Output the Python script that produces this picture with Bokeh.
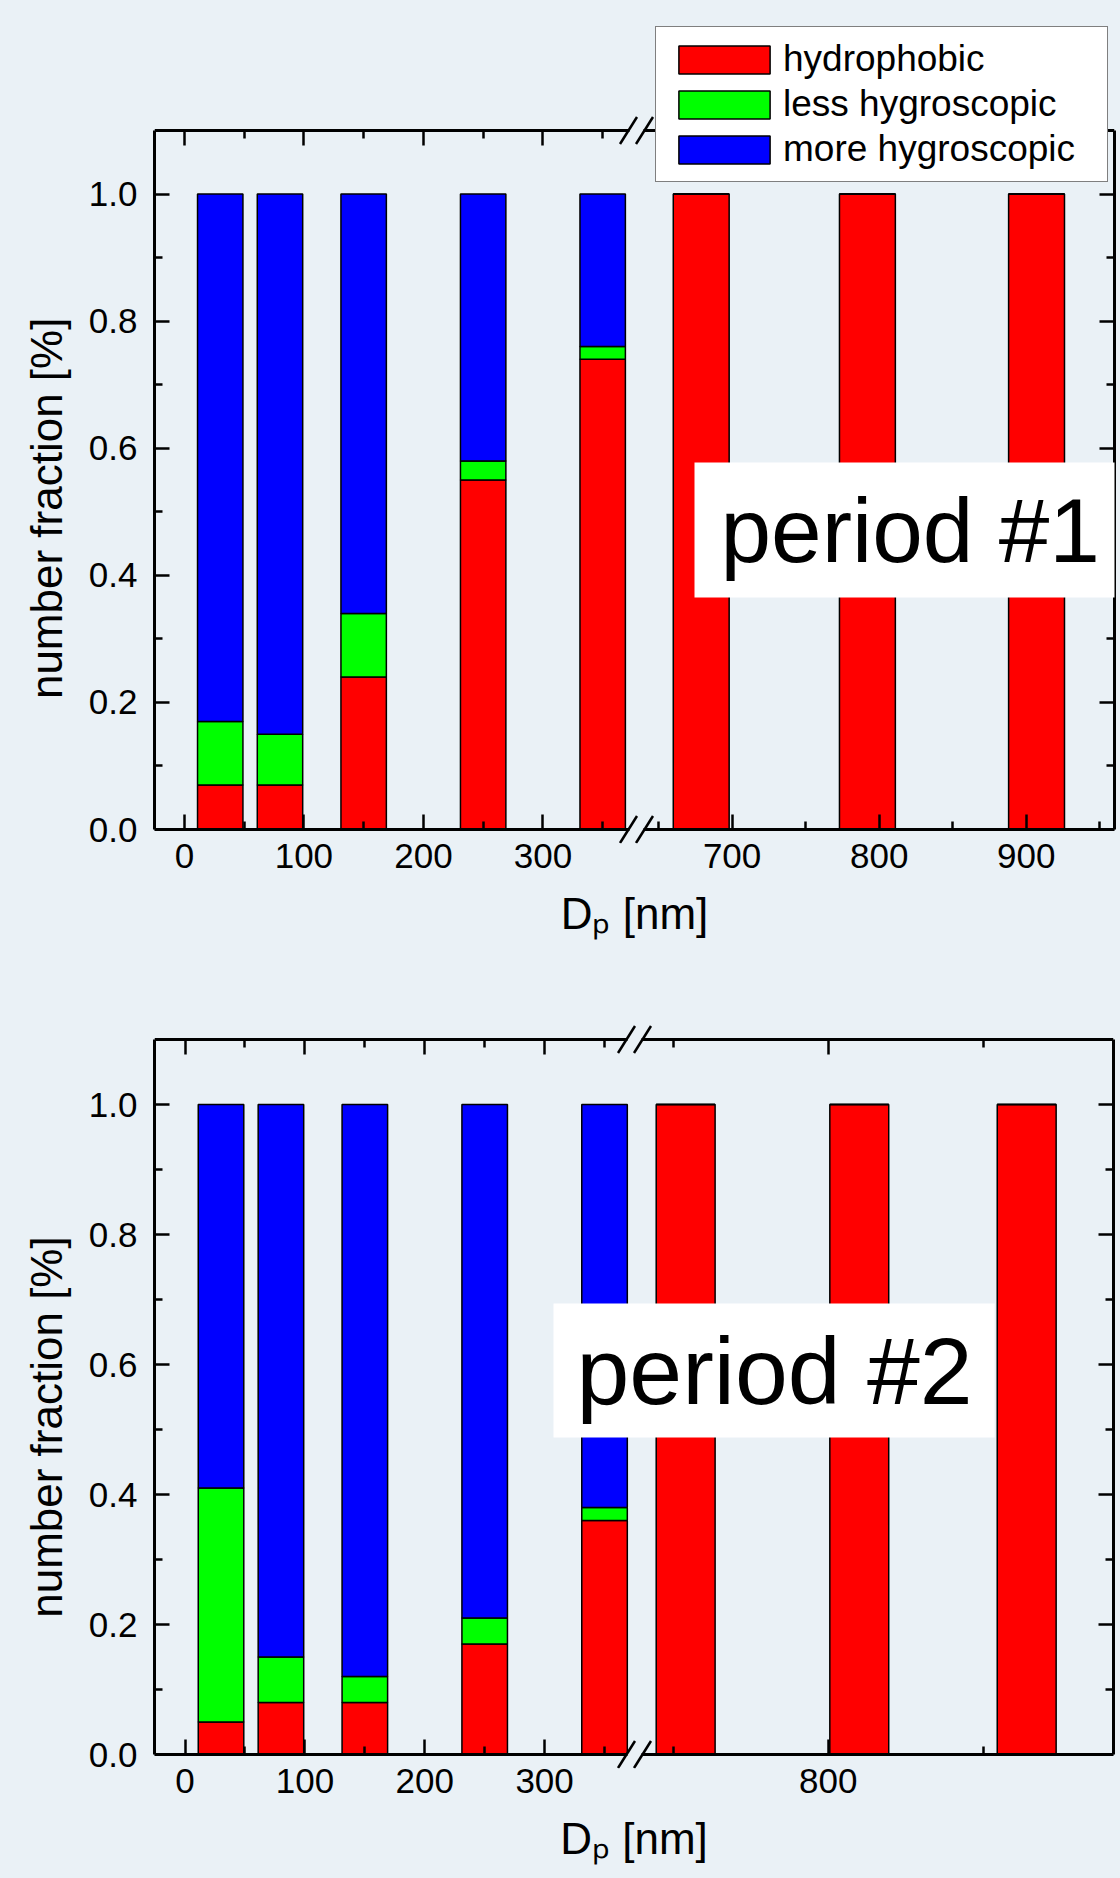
from bokeh.plotting import figure
from bokeh.models import (ColumnDataSource, FixedTicker, LinearAxis, Range1d, BoxAnnotation,
                          Legend, LegendItem, Label, Arrow, PrintfTickFormatter)
from bokeh.layouts import column
from bokeh.embed import file_html
from bokeh.resources import INLINE

# ---------------- data ----------------
classes = ["hydrophobic", "less hygroscopic", "more hygroscopic"]
class_colors = ["#ff0000", "#00ff00", "#0000ff"]

# period #1
p1_dp = [30, 80, 150, 250, 350, 679, 792, 907]
p1_hydrophobic = [0.07, 0.07, 0.24, 0.55, 0.74, 1.0, 1.0, 1.0]
p1_less_hygro = [0.10, 0.08, 0.10, 0.03, 0.02, 0.0, 0.0, 0.0]
p1_more_hygro = [0.83, 0.85, 0.66, 0.42, 0.24, 0.0, 0.0, 0.0]

# period #2
p2_dp = [30, 80, 150, 250, 350, 754, 810, 864]
p2_hydrophobic = [0.05, 0.08, 0.08, 0.17, 0.36, 1.0, 1.0, 1.0]
p2_less_hygro = [0.36, 0.07, 0.04, 0.04, 0.02, 0.0, 0.0, 0.0]
p2_more_hygro = [0.59, 0.85, 0.88, 0.79, 0.62, 0.0, 0.0, 0.0]

p1_x_major = [0, 100, 200, 300, 700, 800, 900]
p1_x_minor = [50, 150, 250, 350, 650, 750, 850, 950]
p2_x_major = [0, 100, 200, 300, 800]
p2_x_minor = [50, 150, 250, 350, 750, 850]
y_major = [0.0, 0.2, 0.4, 0.6, 0.8, 1.0]
y_minor = [0.1, 0.3, 0.5, 0.7, 0.9]

x_title = "D\u209a [nm]"
y_title = "number fraction [%]"

# ---------------- style / layout ----------------
FONT = "Liberation Sans"
BG = "#eaf1f6"
PAGE_W = 1120
Y_MAX = 1.1


def segment_map(segments):
    """broken x axis: each segment = (nm_start, nm_end, px_start, px_end, bar_width_nm)"""
    def f(x):
        for a, b, s0, s1, _ in segments:
            if a <= x <= b:
                return s0 + (x - a) * (s1 - s0) / (b - a)
        raise ValueError(x)

    def width_of(x):
        for a, b, s0, s1, w in segments:
            if a <= x <= b:
                return w
        raise ValueError(x)
    return f, width_of


def style_axis(ax, labels=True):
    ax.axis_line_width = 3
    ax.axis_line_color = "black"
    ax.major_tick_in = 15
    ax.major_tick_out = 0
    ax.minor_tick_in = 8
    ax.minor_tick_out = 0
    ax.major_tick_line_width = 2.5
    ax.minor_tick_line_width = 2.5
    ax.major_tick_line_color = "black"
    ax.minor_tick_line_color = "black"
    ax.major_label_text_font = FONT
    if labels:
        ax.major_label_text_font_size = "35px"
        ax.major_label_text_color = "black"
    else:
        ax.major_label_text_font_size = "0px"
        ax.major_label_text_color = None
        ax.major_label_standoff = 0
    ax.axis_label_text_font = FONT
    ax.axis_label_text_font_size = "44px"
    ax.axis_label_text_font_style = "normal"
    ax.axis_label_text_color = "black"


def build_panel(dp, hyd, less, more, segments, frame_w, span_px, ext_top, ext_bot,
                left_b, top_b, bottom_b, x_major, x_minor, n_pad,
                period_text, period_size, period_box, period_pad, legend_loc=None):
    fmap, wmap = segment_map(segments)
    xs, ws = [], []
    for d in dp:
        w = wmap(d)
        l, r = fmap(d - w / 2), fmap(d + w / 2)
        xs.append((l + r) / 2)
        ws.append(r - l)
    src = ColumnDataSource(dict(x=xs, w=ws, hyd=hyd, less=less, more=more))

    px_per_y = span_px / Y_MAX
    p = figure(frame_width=frame_w, frame_height=span_px + ext_top + ext_bot,
               x_range=Range1d(0, frame_w),
               y_range=Range1d(-ext_bot / px_per_y, Y_MAX + ext_top / px_per_y),
               min_border_left=left_b, min_border_right=PAGE_W - left_b - frame_w,
               min_border_top=top_b, min_border_bottom=bottom_b,
               output_backend="svg", toolbar_location=None,
               background_fill_color=BG, border_fill_color=BG)
    p.outline_line_color = None
    p.xgrid.visible = False
    p.ygrid.visible = False
    p.add_layout(BoxAnnotation(fill_color=BG, fill_alpha=1.0, line_color=None, level="underlay"))

    rs = p.vbar_stack(["hyd", "less", "more"], x="x", width="w", source=src,
                      color=class_colors, line_color="black", line_width=1.5)

    major_v = [fmap(t) for t in x_major]
    minor_v = [fmap(t) for t in x_minor]
    xticker = FixedTicker(ticks=major_v, minor_ticks=minor_v)
    yticker = FixedTicker(ticks=y_major, minor_ticks=y_minor)

    # bottom axis: labels + title in the side panel (line/ticks drawn by the axis at y=0)
    xa = p.xaxis[0]
    xa.ticker = xticker
    xa.major_label_overrides = {v: str(t) for v, t in zip(major_v, x_major)}
    style_axis(xa)
    xa.axis_line_color = None
    xa.major_tick_line_color = None
    xa.minor_tick_line_color = None
    xa.major_label_standoff = 14 - ext_bot
    xa.axis_label = x_title
    xa.axis_label_standoff = 18

    x_rule = LinearAxis(ticker=xticker, fixed_location=0)
    style_axis(x_rule, labels=False)
    p.add_layout(x_rule, "below")

    ya = p.yaxis[0]
    ya.ticker = yticker
    ya.bounds = (0, Y_MAX)
    ya.formatter = PrintfTickFormatter(format="%.1f")
    style_axis(ya)
    ya.major_label_standoff = 17
    ya.axis_label = y_title + "\u00a0" * n_pad
    ya.axis_label_standoff = 15

    top_ax = LinearAxis(ticker=xticker, fixed_location=Y_MAX)
    style_axis(top_ax, labels=False)
    p.add_layout(top_ax, "above")
    right_ax = LinearAxis(ticker=yticker, bounds=(0, Y_MAX))
    style_axis(right_ax, labels=False)
    p.add_layout(right_ax, "right")

    # axis break marks "//"
    brk = segments[0][3]
    for y0 in (0.0, Y_MAX):
        p.add_layout(Arrow(end=None, x_start=brk - 7, x_end=brk + 7, y_start=y0, y_end=y0,
                           line_color=BG, line_width=6))
        for dx in (-8, 8):
            p.add_layout(Arrow(end=None,
                               x_start=brk + dx - 8.5, y_start=y0 - 13.5 / px_per_y,
                               x_end=brk + dx + 8.5, y_end=y0 + 13.5 / px_per_y,
                               line_color="black", line_width=2.5))

    bx, by = period_box
    pl, pr, pt, pb = period_pad
    p.add_layout(Label(x=bx, y=by, x_units="screen", y_units="screen", text=period_text,
                       text_font=FONT, text_font_size=period_size, text_color="black",
                       text_align="left", text_baseline="top",
                       background_fill_color="white", background_fill_alpha=1.0,
                       padding=dict(left=pl, right=pr, top=pt, bottom=pb)))

    if legend_loc is not None:
        items = [LegendItem(label=c, renderers=[r]) for c, r in zip(classes, rs)]
        leg = Legend(items=items, location=legend_loc, orientation="vertical",
                     glyph_width=114, glyph_height=35, label_standoff=2, label_width=313,
                     padding=11, spacing=3, margin=0,
                     border_line_color="black", border_line_width=1.5,
                     background_fill_color="white", background_fill_alpha=1.0,
                     label_text_font=FONT, label_text_font_size="37px",
                     label_text_color="black")
        p.add_layout(leg)
    return p


top_segments = [(-25, 378.3, 0, 482, 38), (635, 960, 482, 960, 38)]
bottom_segments = [(-25.5, 375, 0, 480, 38), (737.5, 892, 480, 959, 19)]

p1 = build_panel(p1_dp, p1_hydrophobic, p1_less_hygro, p1_more_hygro, top_segments,
                 frame_w=960, span_px=699, ext_top=104, ext_bot=14,
                 left_b=154, top_b=26, bottom_b=125,
                 x_major=p1_x_major, x_minor=p1_x_minor, n_pad=12,
                 period_text="period #1", period_size="91px", period_box=(540, 381),
                 period_pad=(26, 40, 17, 17), legend_loc=(501, 661))
p2 = build_panel(p2_dp, p2_hydrophobic, p2_less_hygro, p2_more_hygro, bottom_segments,
                 frame_w=959, span_px=715, ext_top=15, ext_bot=14,
                 left_b=153, top_b=56, bottom_b=110,
                 x_major=p2_x_major, x_minor=p2_x_minor, n_pad=5,
                 period_text="period #2", period_size="95px", period_box=(399, 465),
                 period_pad=(23, 22, 14, 14))

layout = column(p1, p2, spacing=0, styles={"background-color": BG})
open("out.html", "w").write(file_html(layout, INLINE))
